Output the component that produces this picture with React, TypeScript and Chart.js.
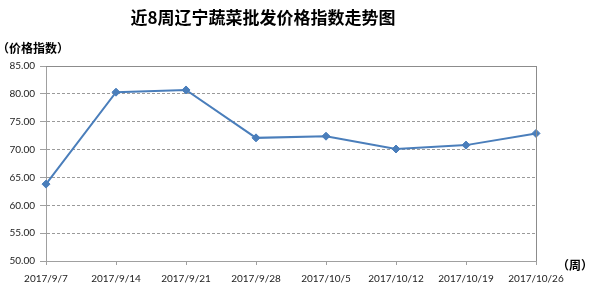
import React, { useEffect, useRef } from "react";
import { Chart, registerables } from "chart.js";

Chart.register(...registerables);

const categories = [
  "2017/9/7",
  "2017/9/14",
  "2017/9/21",
  "2017/9/28",
  "2017/10/5",
  "2017/10/12",
  "2017/10/19",
  "2017/10/26",
];
const priceIndex = [63.8, 80.3, 80.7, 72.1, 72.4, 70.1, 70.8, 72.9];
const yMin = 50;
const yMax = 85;
const yStep = 5;
const titleText = "近8周辽宁蔬菜批发价格指数走势图";
const yUnitText = "（价格指数）";
const xUnitText = "（周）";

const textPlugin = {
  id: "extraText",
  afterDraw(chart: any) {
    const ctx = chart.ctx;
    const area = chart.chartArea;
    ctx.save();
    ctx.strokeStyle = "#8c8c8c";
    ctx.lineWidth = 1;
    ctx.setLineDash([]);
    ctx.beginPath();
    ctx.moveTo(area.left, Math.round(area.top) + 0.5);
    ctx.lineTo(area.right, Math.round(area.top) + 0.5);
    ctx.moveTo(Math.round(area.right) + 0.5, area.top);
    ctx.lineTo(Math.round(area.right) + 0.5, area.bottom);
    ctx.stroke();

    ctx.fillStyle = "#000";
    ctx.textBaseline = "middle";
    ctx.textAlign = "center";
    ctx.font = 'bold 17px "Noto Sans CJK SC"';
    ctx.fillText(titleText, 263, 18);
    ctx.textAlign = "left";
    ctx.font = 'bold 12px "Noto Sans CJK SC"';
    ctx.fillText(yUnitText, -3, 48);
    ctx.fillText(xUnitText, 557, 265);
    ctx.restore();
  },
};

export default function App() {
  const ref = useRef<HTMLCanvasElement>(null);
  useEffect(() => {
    if (!ref.current) return;
    const chart = new Chart(ref.current, {
      type: "line",
      data: {
        labels: categories,
        datasets: [
          {
            data: priceIndex,
            borderColor: "#4a7ebb",
            backgroundColor: "#4a7ebb",
            borderWidth: 2,
            pointStyle: "rectRot",
            pointRadius: 4,
            pointBorderWidth: 1,
            tension: 0,
          },
        ],
      },
      options: {
        animation: false,
        responsive: false,
        maintainAspectRatio: false,
        layout: { padding: { top: 66, right: 59, left: 0, bottom: 0 } },
        plugins: {
          legend: { display: false },
          title: { display: false },
          tooltip: { enabled: false },
        },
        scales: {
          x: {
            offset: false,
            afterFit(axis: any) {
              axis.height = 30;
            },
            grid: {
              drawOnChartArea: false,
              drawTicks: true,
              tickLength: 4,
              color: "#a0a0a0",
            },
            border: { display: true, color: "#a0a0a0", width: 1 },
            ticks: {
              color: "#222",
              font: { family: "Lato", size: 10 },
              padding: 8,
              maxRotation: 0,
              autoSkip: false,
            },
          },
          y: {
            min: yMin,
            max: yMax,
            afterFit(axis: any) {
              axis.width = 46;
            },
            grid: {
              color: "#9a9a9a",
              drawTicks: true,
              tickLength: 6,
              tickColor: "#a0a0a0",
            },
            border: { display: true, color: "#a0a0a0", width: 1, dash: [3, 2] },
            ticks: {
              stepSize: yStep,
              color: "#222",
              font: { family: "Lato", size: 10 },
              padding: 5,
              callback: (v: any) => Number(v).toFixed(2),
            },
          },
        },
      },
      plugins: [textPlugin],
    });
    return () => chart.destroy();
  }, []);
  return (
    <div style={{ position: "absolute", left: 0, top: 0, width: 595, height: 291, background: "#fff" }}>
      <canvas ref={ref} width={595} height={291} style={{ width: 595, height: 291 }} />
    </div>
  );
}
